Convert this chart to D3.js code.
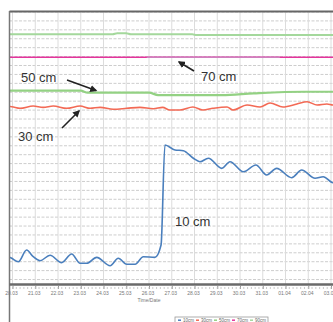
<!DOCTYPE html>
<html lang="en">
    <head>
        <meta charset="utf-8">
        <title>Soil temperature by depth</title>
        <script type="text/javascript" src="https://cdn.jsdelivr.net/npm/d3@7"></script>
        <style type="text/css">
            body { margin: 0; background: #fff; }
            text { font-family: "Liberation Sans", Arial, sans-serif; }
        </style>
    </head>
    <body>
        <script type="text/javascript">

            //Width and height
            var w = 333;
            var h = 322;

            // day ticks (20 = 20.03, 32 = 01.04 ...)
            var tickDays = [20, 21, 22, 23, 24, 25, 26, 27, 28, 29, 30, 31, 32, 33, 34];
            var tickLabels = ["20.03", "21.03", "22.03", "23.03", "24.03", "25.03", "26.03", "27.03",
                              "28.03", "29.03", "30.03", "31.03", "01.04", "02.04", "03.04"];

            var legendLabels = ["10cm", "30cm", "50cm", "70cm", "90cm"];

            // series, [day, value]
            var s10 = [[19.89,2.5],[19.97,2.38],[20.26,2.0],[20.62,3.31],[20.91,2.56],[21.21,2.11],[21.65,2.72],
                       [22.16,1.89],[22.6,2.86],[22.97,1.82],[23.26,1.82],[23.7,2.49],[24.29,1.55],[24.65,2.38],
                       [25.02,1.71],[25.39,1.71],[25.75,2.56],[26.26,2.49],[26.53,3.87],[26.7,15.09],[27.14,14.53],
                       [27.51,14.45],[27.95,13.6],[28.24,13.21],[28.61,13.6],[29.2,12.47],[29.56,13.21],[30.15,12.09],
                       [30.7,12.84],[31.17,11.72],[31.61,12.47],[32.27,11.42],[32.71,12.28],[33.3,11.35],
                       [33.66,11.53],[34.09,10.86],[34.4,10.9]];
            var s30 = [[19.89,19.4],[19.97,19.38],[20.33,19.2],[20.91,19.46],[21.35,19.31],[21.79,19.46],
                       [22.38,19.2],[22.97,19.46],[23.41,19.2],[23.85,19.31],[24.43,19.09],[25.02,19.2],
                       [25.6,19.31],[26.19,19.15],[26.6,19.3],[26.92,19.01],[27.36,19.01],[27.93,19.35],
                       [28.37,19.01],[28.81,19.2],[29.43,19.35],[29.69,19.01],[30.31,19.57],[30.88,19.35],
                       [31.32,19.8],[31.89,19.35],[32.5,19.68],[32.95,19.94],[33.39,19.57],[33.82,19.68],
                       [34.09,19.57],[34.4,19.6]];
            var s50 = [[19.89,21.18],[23.0,21.18],[23.3,20.95],[26.0,20.95],[26.4,20.69],[29.2,20.69],
                       [30.6,20.88],[32.8,21.06],[34.4,21.06]];
            var s70 = [[19.89,24.92],[34.4,24.92]];
            // lighter stretch of the 70 cm trace
            var s70b = [[25.9,24.92],[31.75,24.92]];
            var s90 = [[19.89,27.5],[24.4,27.5],[24.6,27.61],[25.0,27.61],[25.2,27.5],[27.9,27.5],
                       [28.1,27.42],[34.4,27.42]];

            var series = [
                { name: "90cm", data: s90, color: "#a4d89c", width: 2 },
                { name: "70cm", data: s70, color: "#e4349c", width: 1.5 },
                { name: "70cm", data: s70b, color: "#cf7fbe", width: 1.5 },
                { name: "50cm", data: s50, color: "#93d183", width: 2.2 },
                { name: "30cm", data: s30, color: "#f36a55", width: 1.6 },
                { name: "10cm", data: s10, color: "#4a7fbd", width: 1.6 }
            ];

            var x = d3.scaleLinear().domain([19.89, 34.4]).range([10, 340.1]);
            var y = d3.scaleLinear().domain([-0.5, 30]).range([284, 12]);

            var svg = d3.select("body")
                        .append("svg")
                        .attr("width", w)
                        .attr("height", h);

            svg.append("defs").append("clipPath")
               .attr("id", "plot")
               .append("rect")
               .attr("x", 10).attr("y", 12)
               .attr("width", 340).attr("height", 272);

            svg.append("defs").append("marker")
               .attr("id", "head")
               .attr("viewBox", "0 0 10 10")
               .attr("refX", 8).attr("refY", 5)
               .attr("markerWidth", 4.5).attr("markerHeight", 4.5)
               .attr("orient", "auto")
               .append("path")
               .attr("d", "M0,0L10,5L0,10z")
               .attr("fill", "#222");

            //grid
            var grid = svg.append("g");
            grid.selectAll("line.h")
                .data(d3.range(0, 31))
                .enter()
                .append("line")
                .attr("x1", 10).attr("x2", w)
                .attr("y1", function(d) { return y(d); })
                .attr("y2", function(d) { return y(d); })
                .style("stroke", "#cdcdcd")
                .style("stroke-width", 1)
                .style("stroke-dasharray", "3,1.5");
            grid.selectAll("line.v")
                .data(tickDays)
                .enter()
                .append("line")
                .attr("x1", function(d) { return x(d); })
                .attr("x2", function(d) { return x(d); })
                .attr("y1", 12).attr("y2", 284)
                .style("stroke", "#dcdcdc")
                .style("stroke-width", 1);

            //lines
            var line = d3.line()
                         .x(function(d) { return x(d[0]); })
                         .y(function(d) { return y(d[1]); })
                         .curve(d3.curveMonotoneX);

            svg.append("g")
               .attr("clip-path", "url(#plot)")
               .selectAll("path")
               .data(series)
               .enter()
               .append("path")
               .attr("d", function(d) { return line(d.data); })
               .attr("fill", "none")
               .attr("stroke", function(d) { return d.color; })
               .attr("stroke-width", function(d) { return d.width; })
               .attr("stroke-linejoin", "round");

            //frame
            svg.append("line").attr("x1", 9.5).attr("x2", w).attr("y1", 11.5).attr("y2", 11.5)
               .style("stroke", "#666").style("stroke-width", 2);
            svg.append("line").attr("x1", 9.5).attr("x2", 9.5).attr("y1", 11).attr("y2", h)
               .style("stroke", "#777").style("stroke-width", 1.5);
            svg.append("line").attr("x1", 9.5).attr("x2", w).attr("y1", 284.5).attr("y2", 284.5)
               .style("stroke", "#6a6a6a").style("stroke-width", 2.5);

            //x axis
            var xAxis = d3.axisBottom(x)
                          .tickValues(tickDays)
                          .tickSize(3)
                          .tickFormat(function(d, i) { return tickLabels[i]; });
            var gx = svg.append("g")
                        .attr("transform", "translate(0,286)")
                        .call(xAxis);
            gx.select(".domain").remove();
            gx.selectAll("line").style("stroke", "#999");
            gx.selectAll("text")
              .attr("y", 5)
              .attr("dx", -1.5)
              .style("font-size", "5px")
              .style("fill", "#777");

            // minor ticks
            svg.append("g").selectAll("line")
               .data(d3.range(20, 34.4, 1 / 6))
               .enter()
               .append("line")
               .attr("x1", function(d) { return x(d); })
               .attr("x2", function(d) { return x(d); })
               .attr("y1", 287).attr("y2", 289)
               .style("stroke", "#bbb")
               .style("stroke-width", 0.8);

            svg.append("text")
               .text("Time/Date")
               .attr("x", 149)
               .attr("y", 302)
               .attr("text-anchor", "middle")
               .style("font-size", "5px")
               .style("fill", "#777");

            //legend
            var lg = svg.append("g").attr("transform", "translate(175,317)");
            lg.append("rect")
              .attr("width", 93).attr("height", 10)
              .attr("fill", "#fff")
              .attr("stroke", "#999")
              .attr("stroke-width", 0.8);
            var legendColors = ["#4a7fbd", "#f36a55", "#93d183", "#e4349c", "#a4d89c"];
            var items = lg.selectAll("g.item")
                          .data(legendLabels)
                          .enter()
                          .append("g")
                          .attr("transform", function(d, i) { return "translate(" + (3 + i * 18) + ",0)"; });
            items.append("line")
                 .attr("x1", 0).attr("x2", 3).attr("y1", 3.2).attr("y2", 3.2)
                 .style("stroke", function(d, i) { return legendColors[i]; })
                 .style("stroke-width", 1.5);
            items.append("text")
                 .text(function(d) { return d; })
                 .attr("x", 5).attr("y", 4.6)
                 .style("font-size", "4.5px")
                 .style("fill", "#666");

            //annotations
            var notes = [
                { t: "50 cm", x: 21, y: 82, ax1: 67, ay1: 80, ax2: 96, ay2: 90.5 },
                { t: "70 cm", x: 201, y: 81, ax1: 194, ay1: 71, ax2: 179, ay2: 62 },
                { t: "30 cm", x: 18, y: 141, ax1: 62, ay1: 128, ax2: 79, ay2: 111 },
                { t: "10 cm", x: 175, y: 226 }
            ];
            notes.forEach(function(n) {
                svg.append("text")
                   .text(n.t)
                   .attr("x", n.x)
                   .attr("y", n.y)
                   .style("font-size", "13px")
                   .style("fill", "#333");
                if (n.ax1 !== undefined) {
                    svg.append("line")
                       .attr("x1", n.ax1).attr("y1", n.ay1)
                       .attr("x2", n.ax2).attr("y2", n.ay2)
                       .style("stroke", "#222")
                       .style("stroke-width", 1.6)
                       .attr("marker-end", "url(#head)");
                }
            });

        </script>
    </body>
</html>
